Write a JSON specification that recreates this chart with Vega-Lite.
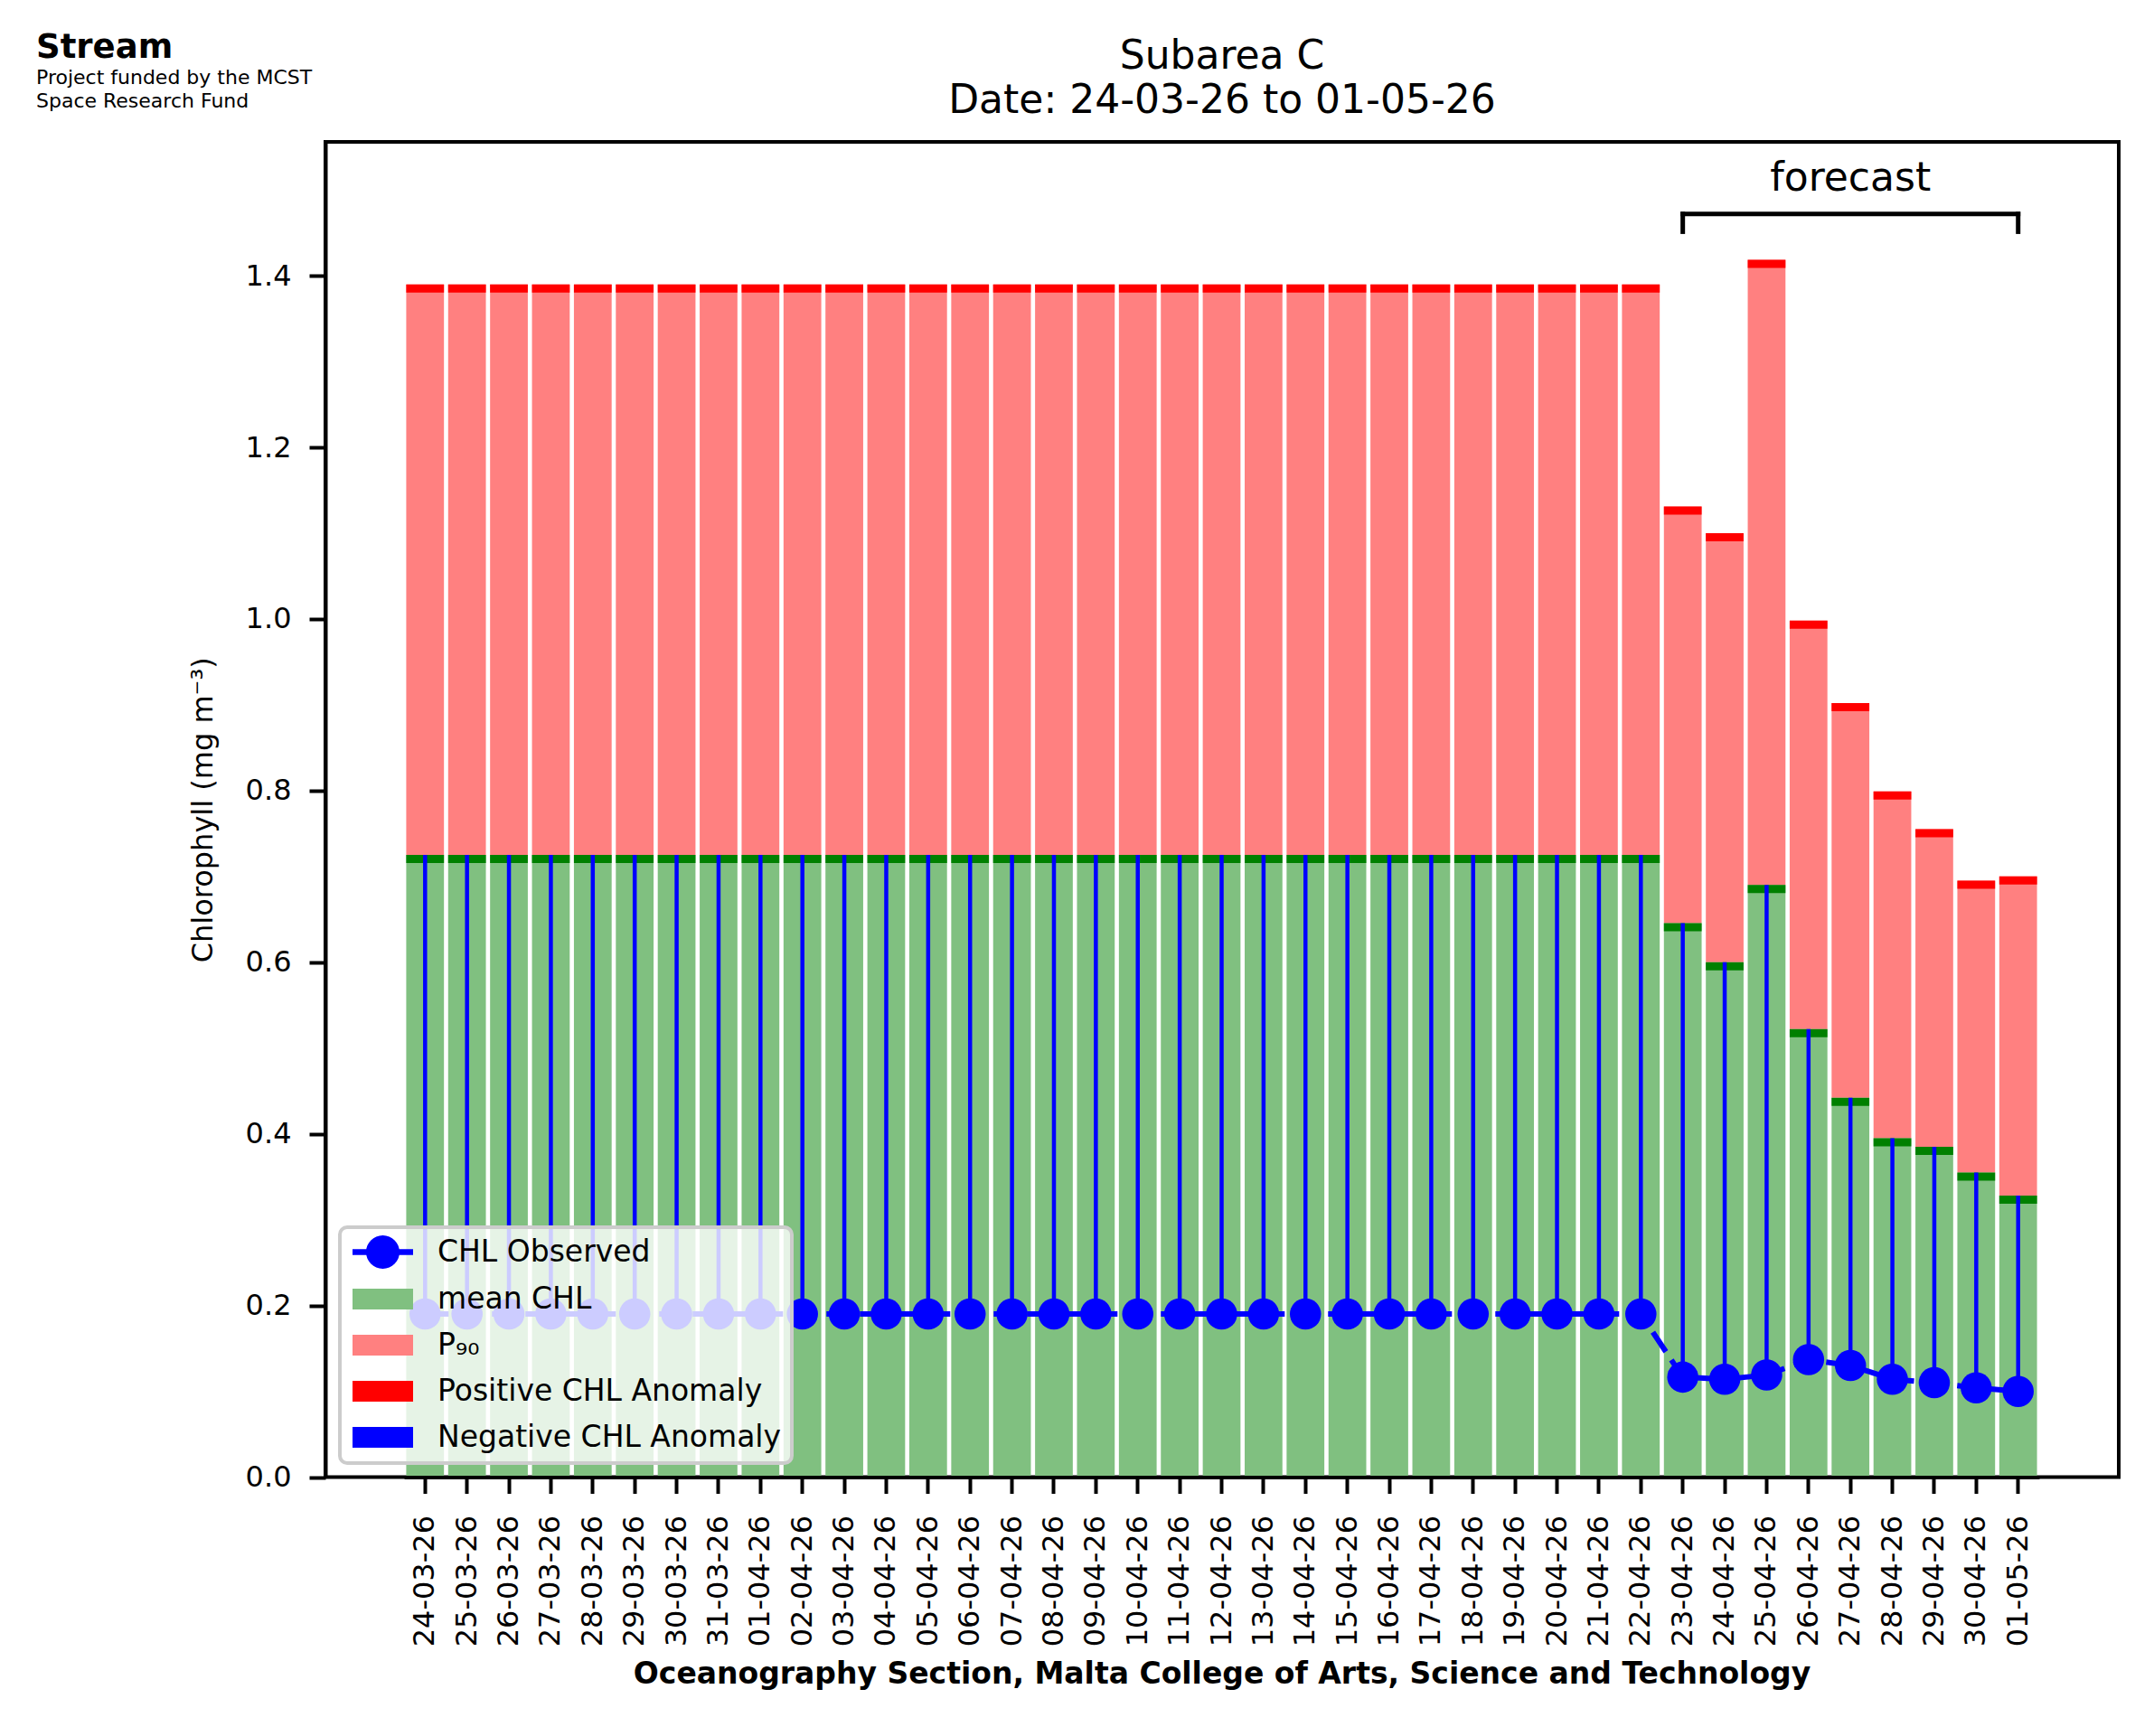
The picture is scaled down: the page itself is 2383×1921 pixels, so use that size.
{
  "$schema": "https://vega.github.io/schema/vega-lite/v6.json",
  "width": 1984,
  "height": 1477.5,
  "autosize": {"type": "none"},
  "padding": {"left": 360, "top": 157, "right": 39, "bottom": 286.5},
  "background": "white",
  "config": {
    "font": "DejaVu Sans",
    "view": {"stroke": "black", "strokeWidth": 4}
  },
  "title": {
    "text": "Stream",
    "subtitle": ["Project funded by the MCST", "Space Research Fund"],
    "anchor": "start",
    "frame": "group",
    "dx": -320,
    "offset": -84,
    "fontSize": 37,
    "fontWeight": "bold",
    "color": "black",
    "subtitleFontSize": 22,
    "subtitleColor": "black",
    "subtitleLineHeight": 26,
    "subtitlePadding": 4
  },
  "data": {
    "values": [
      {"date": "24-03-26", "obs": 0.19, "mean": 0.725, "p90": 1.39},
      {"date": "25-03-26", "obs": 0.19, "mean": 0.725, "p90": 1.39},
      {"date": "26-03-26", "obs": 0.19, "mean": 0.725, "p90": 1.39},
      {"date": "27-03-26", "obs": 0.19, "mean": 0.725, "p90": 1.39},
      {"date": "28-03-26", "obs": 0.19, "mean": 0.725, "p90": 1.39},
      {"date": "29-03-26", "obs": 0.19, "mean": 0.725, "p90": 1.39},
      {"date": "30-03-26", "obs": 0.19, "mean": 0.725, "p90": 1.39},
      {"date": "31-03-26", "obs": 0.19, "mean": 0.725, "p90": 1.39},
      {"date": "01-04-26", "obs": 0.19, "mean": 0.725, "p90": 1.39},
      {"date": "02-04-26", "obs": 0.19, "mean": 0.725, "p90": 1.39},
      {"date": "03-04-26", "obs": 0.19, "mean": 0.725, "p90": 1.39},
      {"date": "04-04-26", "obs": 0.19, "mean": 0.725, "p90": 1.39},
      {"date": "05-04-26", "obs": 0.19, "mean": 0.725, "p90": 1.39},
      {"date": "06-04-26", "obs": 0.19, "mean": 0.725, "p90": 1.39},
      {"date": "07-04-26", "obs": 0.19, "mean": 0.725, "p90": 1.39},
      {"date": "08-04-26", "obs": 0.19, "mean": 0.725, "p90": 1.39},
      {"date": "09-04-26", "obs": 0.19, "mean": 0.725, "p90": 1.39},
      {"date": "10-04-26", "obs": 0.19, "mean": 0.725, "p90": 1.39},
      {"date": "11-04-26", "obs": 0.19, "mean": 0.725, "p90": 1.39},
      {"date": "12-04-26", "obs": 0.19, "mean": 0.725, "p90": 1.39},
      {"date": "13-04-26", "obs": 0.19, "mean": 0.725, "p90": 1.39},
      {"date": "14-04-26", "obs": 0.19, "mean": 0.725, "p90": 1.39},
      {"date": "15-04-26", "obs": 0.19, "mean": 0.725, "p90": 1.39},
      {"date": "16-04-26", "obs": 0.19, "mean": 0.725, "p90": 1.39},
      {"date": "17-04-26", "obs": 0.19, "mean": 0.725, "p90": 1.39},
      {"date": "18-04-26", "obs": 0.19, "mean": 0.725, "p90": 1.39},
      {"date": "19-04-26", "obs": 0.19, "mean": 0.725, "p90": 1.39},
      {"date": "20-04-26", "obs": 0.19, "mean": 0.725, "p90": 1.39},
      {"date": "21-04-26", "obs": 0.19, "mean": 0.725, "p90": 1.39},
      {"date": "22-04-26", "obs": 0.19, "mean": 0.725, "p90": 1.39},
      {"date": "23-04-26", "obs": 0.1165, "mean": 0.6457, "p90": 1.131},
      {"date": "24-04-26", "obs": 0.114, "mean": 0.6, "p90": 1.1},
      {"date": "25-04-26", "obs": 0.119, "mean": 0.69, "p90": 1.4185},
      {"date": "26-04-26", "obs": 0.137, "mean": 0.522, "p90": 0.998},
      {"date": "27-04-26", "obs": 0.13, "mean": 0.442, "p90": 0.902},
      {"date": "28-04-26", "obs": 0.114, "mean": 0.395, "p90": 0.799},
      {"date": "29-04-26", "obs": 0.11, "mean": 0.385, "p90": 0.755},
      {"date": "30-04-26", "obs": 0.104, "mean": 0.355, "p90": 0.695},
      {"date": "01-05-26", "obs": 0.0998, "mean": 0.328, "p90": 0.7}
    ]
  },
  "resolve": {"axis": {"x": "independent", "y": "independent"}},
  "encoding": {
    "x": {
      "field": "date",
      "type": "ordinal",
      "axis": null,
      "scale": {
        "type": "band",
        "domain": ["24-03-26", "25-03-26", "26-03-26", "27-03-26", "28-03-26", "29-03-26", "30-03-26", "31-03-26", "01-04-26", "02-04-26", "03-04-26", "04-04-26", "05-04-26", "06-04-26", "07-04-26", "08-04-26", "09-04-26", "10-04-26", "11-04-26", "12-04-26", "13-04-26", "14-04-26", "15-04-26", "16-04-26", "17-04-26", "18-04-26", "19-04-26", "20-04-26", "21-04-26", "22-04-26", "23-04-26", "24-04-26", "25-04-26", "26-04-26", "27-04-26", "28-04-26", "29-04-26", "30-04-26", "01-05-26"],
        "range": [87.1, 1895.9],
        "paddingInner": 0.1,
        "paddingOuter": 0.05
      }
    }
  },
  "layer": [
    {
      "mark": {"type": "bar"},
      "encoding": {
        "x": {
          "field": "date",
          "type": "ordinal",
          "scale": {
            "type": "band",
            "domain": ["24-03-26", "25-03-26", "26-03-26", "27-03-26", "28-03-26", "29-03-26", "30-03-26", "31-03-26", "01-04-26", "02-04-26", "03-04-26", "04-04-26", "05-04-26", "06-04-26", "07-04-26", "08-04-26", "09-04-26", "10-04-26", "11-04-26", "12-04-26", "13-04-26", "14-04-26", "15-04-26", "16-04-26", "17-04-26", "18-04-26", "19-04-26", "20-04-26", "21-04-26", "22-04-26", "23-04-26", "24-04-26", "25-04-26", "26-04-26", "27-04-26", "28-04-26", "29-04-26", "30-04-26", "01-05-26"],
            "range": [87.1, 1895.9],
            "paddingInner": 0.1,
            "paddingOuter": 0.05
          },
          "axis": {
            "orient": "bottom",
            "title": "Oceanography Section, Malta College of Arts, Science and Technology",
            "titleFontSize": 33,
            "titleFontWeight": "bold",
            "titleColor": "black",
            "titlePadding": 15,
            "labelAngle": 270,
            "labelFontSize": 32,
            "labelColor": "black",
            "labelPadding": 24,
            "tickSize": 18,
            "tickWidth": 4,
            "tickColor": "black",
            "domainColor": "black",
            "domainWidth": 4,
            "zindex": 1
          }
        },
        "y": {
          "field": "mean",
          "type": "quantitative",
          "scale": {"domain": [0, 1.556], "nice": false},
          "axis": {
            "title": "Chlorophyll (mg m⁻³)",
            "titleFontSize": 32,
            "titleFontWeight": "normal",
            "titleColor": "black",
            "titlePadding": 30,
            "values": [0, 0.2, 0.4, 0.6, 0.8, 1.0, 1.2, 1.4],
            "format": ".1f",
            "labelFontSize": 32,
            "labelColor": "black",
            "labelPadding": 20,
            "tickSize": 18,
            "tickWidth": 4,
            "tickColor": "black",
            "domainColor": "black",
            "domainWidth": 4,
            "grid": false,
            "zindex": 1
          }
        },
        "color": {
          "datum": "mean CHL",
          "scale": {
            "domain": ["CHL Observed", "mean CHL", "P₉₀", "Positive CHL Anomaly", "Negative CHL Anomaly"],
            "range": ["#0000ff", "#80c080", "#ff8080", "#ff0000", "#0000ff"]
          },
          "legend": {
            "title": null,
            "orient": "none",
            "legendX": 16,
            "legendY": 1201,
            "padding": 11,
            "rowPadding": 17,
            "labelOffset": 64,
            "labelFontSize": 33,
            "labelColor": "black",
            "labelLimit": 900,
            "symbolSize": 1089,
            "symbolStrokeWidth": 0,
            "symbolOpacity": 1,
            "fillColor": "rgba(255,255,255,0.8)",
            "strokeColor": "#cccccc",
            "cornerRadius": 8,
            "encode": {
              "legend": {
                "update": {
                  "strokeWidth": {"value": 4}
                }
              },
              "symbols": {
                "update": {
                  "shape": {"signal": "datum.value === 'CHL Observed' ? 'M-0.818,-0.19H3.242V0.19H-0.818Z M0.091,0A1.121,1.121 0 1,1 2.333,0A1.121,1.121 0 1,1 0.091,0Z' : 'M-0.818,-0.697H3.242V0.697H-0.818Z'"},
                  "fill": {"signal": "scale('color', datum.value)"},
                  "fillOpacity": {"value": 1},
                  "strokeWidth": {"value": 0}
                }
              }
            }
          }
        }
      }
    },
    {
      "mark": {"type": "bar"},
      "encoding": {
        "y": {"field": "mean", "type": "quantitative", "axis": null},
        "y2": {"field": "p90"},
        "color": {"datum": "P₉₀"}
      }
    },
    {
      "mark": {"type": "tick", "thickness": 9, "size": 41.76, "yOffset": 4.5, "color": "#008000", "opacity": 1},
      "encoding": {
        "x": {
          "field": "date",
          "type": "ordinal",
          "scale": {
            "type": "band",
            "domain": ["24-03-26", "25-03-26", "26-03-26", "27-03-26", "28-03-26", "29-03-26", "30-03-26", "31-03-26", "01-04-26", "02-04-26", "03-04-26", "04-04-26", "05-04-26", "06-04-26", "07-04-26", "08-04-26", "09-04-26", "10-04-26", "11-04-26", "12-04-26", "13-04-26", "14-04-26", "15-04-26", "16-04-26", "17-04-26", "18-04-26", "19-04-26", "20-04-26", "21-04-26", "22-04-26", "23-04-26", "24-04-26", "25-04-26", "26-04-26", "27-04-26", "28-04-26", "29-04-26", "30-04-26", "01-05-26"],
            "range": [87.1, 1895.9],
            "paddingInner": 0.1,
            "paddingOuter": 0.05
          },
          "axis": {
            "orient": "top",
            "title": ["Subarea C", "Date: 24-03-26 to 01-05-26"],
            "titleFontSize": 44,
            "titleFontWeight": "normal",
            "titleLineHeight": 49,
            "titleColor": "black",
            "titlePadding": 24,
            "labels": false,
            "ticks": false,
            "domain": false
          }
        },
        "y": {"field": "mean", "type": "quantitative", "axis": null}
      }
    },
    {
      "mark": {"type": "tick", "thickness": 9, "size": 41.76, "yOffset": 4.5, "opacity": 1},
      "encoding": {
        "y": {"field": "p90", "type": "quantitative", "axis": null},
        "color": {"datum": "Positive CHL Anomaly"}
      }
    },
    {
      "mark": {"type": "rule", "strokeWidth": 4.5},
      "encoding": {
        "y": {"field": "obs", "type": "quantitative", "axis": null},
        "y2": {"field": "mean"},
        "color": {"datum": "Negative CHL Anomaly"}
      }
    },
    {
      "mark": {"type": "line", "strokeWidth": 6, "strokeDash": [26, 11], "strokeCap": "butt"},
      "encoding": {
        "y": {"field": "obs", "type": "quantitative", "axis": null},
        "color": {"datum": "CHL Observed"}
      }
    },
    {
      "mark": {"type": "circle", "size": 1195, "opacity": 1},
      "encoding": {
        "y": {"field": "obs", "type": "quantitative", "axis": null},
        "color": {"datum": "CHL Observed"}
      }
    },
    {
      "data": {"values": [{"label": "forecast"}]},
      "mark": {"type": "rule", "strokeWidth": 5, "color": "black", "strokeCap": "square"},
      "encoding": {
        "x": {"datum": "23-04-26", "type": "ordinal", "axis": null},
        "x2": {"datum": "01-05-26"},
        "y": {"datum": 1.472, "type": "quantitative", "axis": null}
      }
    },
    {
      "data": {"values": [{"end": "23-04-26"}, {"end": "01-05-26"}]},
      "mark": {"type": "rule", "strokeWidth": 5, "color": "black", "strokeCap": "square"},
      "encoding": {
        "x": {"field": "end", "type": "ordinal", "axis": null},
        "y": {"datum": 1.4513, "type": "quantitative", "axis": null},
        "y2": {"datum": 1.472}
      }
    },
    {
      "data": {"values": [{"label": "forecast"}]},
      "mark": {"type": "text", "fontSize": 44, "align": "center", "baseline": "alphabetic", "color": "black"},
      "encoding": {
        "x": {"datum": "27-04-26", "type": "ordinal", "axis": null},
        "y": {"datum": 1.4988, "type": "quantitative", "axis": null},
        "text": {"field": "label"}
      }
    }
  ]
}
